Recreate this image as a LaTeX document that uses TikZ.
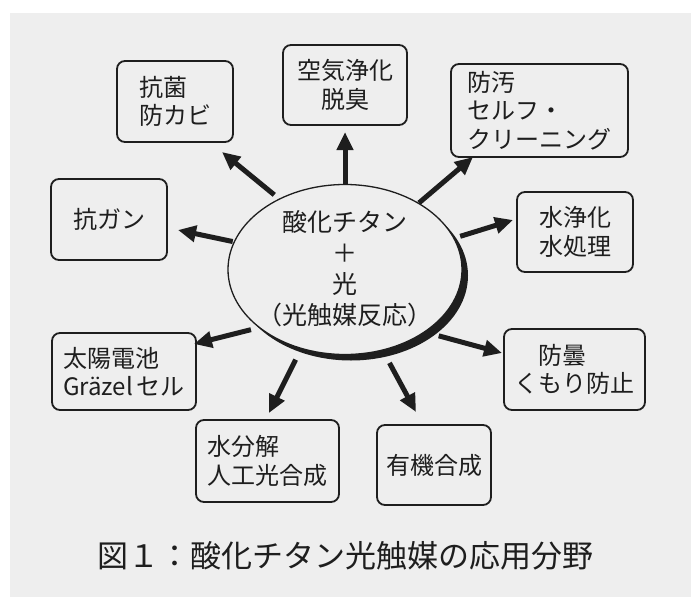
\documentclass[tikz,border=0pt]{standalone}
\usepackage{fontspec}
\setmainfont{Noto Sans CJK JP}
\usetikzlibrary{arrows.meta,shapes.geometric}
\definecolor{bg}{HTML}{EEEEEE}
\definecolor{ink}{HTML}{1E1E1E}
\begin{document}
\begin{tikzpicture}[x=1pt,y=-1pt,
  box/.style={draw=ink, line width=1.8pt, rounded corners=8pt, inner sep=0pt,
    text=ink, font=\fontsize{24}{28.5}\selectfont},
  arr/.style={draw=ink, line width=5pt, -{Triangle[length=18pt,width=16pt]}},
  lbl/.style={text=ink, inner sep=0pt}]
\useasboundingbox (0,0) rectangle (691,597);
\fill[white] (0,0) rectangle (691,597);
\fill[bg] (10,13) rectangle (691,597);

% central ellipse with shadow
\coordinate (c) at (345,269.5);
\fill[ink] ([shift={(6pt,-6pt)}]c) ellipse [x radius=117pt, y radius=85pt];
\node[ellipse, draw=ink, fill=bg, line width=1.3pt, minimum width=234pt,
  minimum height=170pt, inner sep=0pt] (E) at (c) {};
\node[lbl, align=center, font=\fontsize{25}{31}\selectfont] (Et) at (345,269)
  {酸化チタン\\＋\\光\\（光触媒反応）};

% boxes
\node[box, align=left, minimum width=116pt, minimum height=81pt] (B1) at (175,101.5) {抗菌\\防カビ};
\node[box, align=center, minimum width=124pt, minimum height=80pt] (B2) at (345,85) {空気浄化\\脱臭};
\node[box, align=left, minimum width=177pt, minimum height=93pt] (B3) at (539.5,110.5) {防汚\\セルフ・\\クリーニング};
\node[box, align=left, minimum width=116pt, minimum height=80pt] (B4) at (575,232) {水浄化\\水処理};
\node[box, align=left, minimum width=116pt, minimum height=81pt] (B5) at (109,219.5) {抗ガン};
\node[box, align=left, minimum width=144pt, minimum height=77pt] (B6) at (124,371.5) {太陽電池\\Gräzel\,セル};
\node[box, align=left, minimum width=143pt, minimum height=82pt] (B7) at (267.5,461) {水分解\\人工光合成};
\node[box, align=left, minimum width=114pt, minimum height=80pt] (B8) at (434,465) {有機合成};
\node[box, align=left, minimum width=141pt, minimum height=81pt] (B9) at (574.5,369.5) {\hspace*{1em}防曇\\くもり防止};

% arrow tips (free ends near the boxes)
\coordinate (t1) at (222,152);
\coordinate (t2) at (345,132);
\coordinate (t3) at (473,157);
\coordinate (t4) at (513,220);
\coordinate (t5) at (178,230);
\coordinate (t6) at (194,344);
\coordinate (t7) at (269,413);
\coordinate (t8) at (416,412);
\coordinate (t9) at (502,353);

\draw[arr, shorten <=6pt] (E.133.2) -- (t1);
\draw[arr] (E.90) -- (t2);
\draw[arr] (E.42.7) -- (t3);
\draw[arr, shorten <=6pt] (E.16.8) -- (t4);
\draw[arr, shorten <=1pt] (E.166.7) -- (t5);
\draw[arr, shorten <=8pt] (E.214.2) -- (t6);
\draw[arr, shorten <=12pt] (E.241.8) -- (t7);
\draw[arr, shorten <=14pt] (E.295.9) -- (t8);
\draw[arr, shorten <=14pt] (E.322.5) -- (t9);

% caption
\node[lbl, font=\fontsize{31}{31}\selectfont] (cap) at (345.5,556) {図１：酸化チタン光触媒の応用分野};
\end{tikzpicture}
\end{document}
